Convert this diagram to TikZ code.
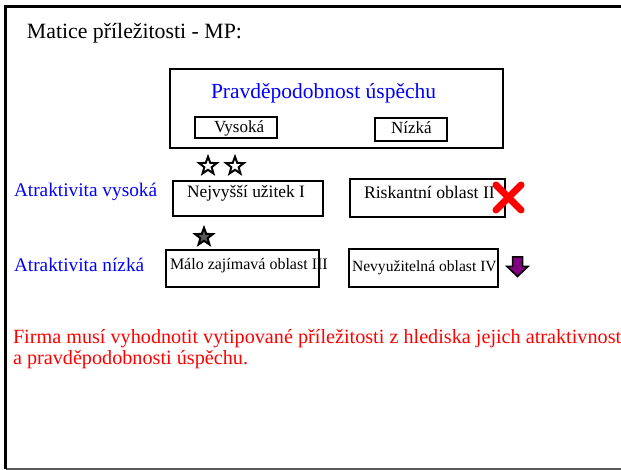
\documentclass[tikz,border=0pt]{standalone}
\usepackage{fontspec}
\setmainfont{Liberation Serif}
\usetikzlibrary{shapes.geometric}
\definecolor{bblue}{RGB}{0,0,255}
\definecolor{rred}{RGB}{255,0,0}
\definecolor{ppurple}{RGB}{128,0,128}
\newcommand{\fs}[1]{\fontsize{#1pt}{#1pt}\selectfont}
\tikzset{
  txt/.style={anchor=base west, inner sep=0pt, outer sep=0pt},
  cellbox/.style={draw=black, line width=2pt, rectangle, inner sep=0pt, fill=none},
  starshape/.style={star, star points=5, star point ratio=2.4, draw=black, line width=2pt, minimum size=18.5pt, inner sep=0pt},
}
\begin{document}
\begin{tikzpicture}[x=1pt,y=-1pt]
\useasboundingbox (0,0) rectangle (621,470);
\begin{scope}
\clip (0,0) rectangle (621,470);
\fill[white] (0,0) rectangle (621,470);
% frame
\draw[gray!70!black, line width=1.5pt] (5.5,469) -- (640,469);
\draw[black, line width=2.5pt] (5.5,469) -- (5.5,6.5) -- (640,6.5);

\node[txt] (title) at (27,39) {\fs{21.8}Matice příležitosti - MP:};

% probability box
\node[cellbox, minimum width=333pt, minimum height=79pt] (pbox) at (336.5,108.5) {};
\node[txt, text=bblue] (ptext) at (211,99) {\fs{21.5}Pravděpodobnost úspěchu};
\node[cellbox, minimum width=82pt, minimum height=21pt] (vbox) at (236,127.5) {};
\node[txt] (vtext) at (214,133) {\fs{17}Vysoká};
\node[cellbox, minimum width=72pt, minimum height=23pt] (nbox) at (411,129.5) {};
\node[txt] (ntext) at (391,134) {\fs{17}Nízká};

% stars
\node[starshape, fill=white] (s1) at (208,166) {};
\node[starshape, fill=white] (s2) at (235,166) {};
\node[starshape, fill=gray!70!black] (s3) at (204,237) {};

% row labels
\node[txt, text=bblue] (avys) at (14,197) {\fs{19.3}Atraktivita vysoká};
\node[txt, text=bblue] (aniz) at (14,272) {\fs{19.3}Atraktivita nízká};

% quadrant boxes
\node[cellbox, minimum width=150pt, minimum height=35pt] (b1) at (248,198.5) {};
\node[txt] (t1) at (187,198) {\fs{17.4}Nejvyšší užitek I};
\node[cellbox, minimum width=155pt, minimum height=38pt] (b2) at (427.5,198) {};
\node[txt] (t2) at (364,199) {\fs{17.7}Riskantní oblast II};
\node[cellbox, minimum width=153pt, minimum height=37pt] (b3) at (242.5,268.5) {};
\node[txt] (t3) at (170,270) {\fs{16}Málo zajímavá oblast III};
\node[cellbox, minimum width=149pt, minimum height=38pt] (b4) at (423.5,268) {};
\node[txt] (t4) at (352,272) {\fs{15.6}Nevyužitelná oblast IV};

% red cross
\coordinate (x1) at (496,185);
\coordinate (x2) at (521,210);
\coordinate (x3) at (496,210);
\coordinate (x4) at (521,185);
\draw[rred, line width=7pt, line cap=round] (x1) -- (x2);
\draw[rred, line width=7pt, line cap=round] (x3) -- (x4);

% purple arrow
\draw[black, line width=1.5pt, fill=ppurple, line join=miter]
  (512.5,257) -- (522.5,257) -- (522.5,266.5) -- (528,266.5) -- (517.5,276.5)
  -- (507,266.5) -- (512.5,266.5) -- cycle;

% red text
\node[txt, text=rred] (r1) at (13,343) {\fs{20.2}Firma musí vyhodnotit vytipované příležitosti z hlediska jejich atraktivnost};
\node[txt, text=rred] (r2) at (13,364) {\fs{20.2}a pravděpodobnosti úspěchu.};
\end{scope}
\end{tikzpicture}
\end{document}
